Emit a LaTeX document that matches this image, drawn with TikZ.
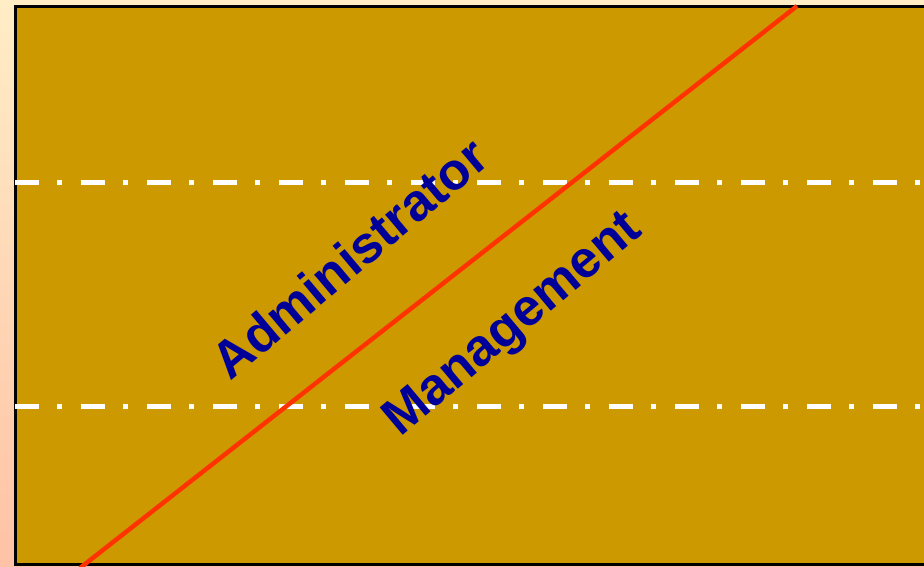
\documentclass[tikz,border=0pt]{standalone}
\usepackage{fontspec}
\setmainfont{Liberation Sans}
\definecolor{gold}{HTML}{CC9900}
\definecolor{redline}{HTML}{FF3300}
\definecolor{navy}{HTML}{000099}
\definecolor{bgtop}{HTML}{FFEDC6}
\definecolor{bgbot}{HTML}{FFC2A6}
\tikzset{
  dashdot/.style={white, line width=5pt, dash pattern=on 24pt off 18pt on 5pt off 19pt},
  lbl/.style={text=navy, font=\bfseries\fontsize{52}{52}\selectfont, rotate=40, inner sep=0pt}
}
\begin{document}
\begin{tikzpicture}[x=1pt,y=-1pt]
\useasboundingbox (0,0) rectangle (924,566);
\shade[top color=bgtop, bottom color=bgbot] (0,0) rectangle (924,566);
\begin{scope}
\clip (0,0) rectangle (924,566);
\draw[fill=gold, line width=3pt] (15.5,6.5) rectangle (940,564.8);
\draw[dashdot] (15,182) -- (924,182);
\draw[dashdot] (15,406) -- (924,406);
\coordinate (rs) at (80,568);
\coordinate (re) at (797,6);
\draw[redline, line width=4.5pt] (rs) -- (re);
\end{scope}
\node[lbl] (adm) at (349,258) {Administrator};
\node[lbl] (mgt) at (514,326) {Management};
\end{tikzpicture}
\end{document}
